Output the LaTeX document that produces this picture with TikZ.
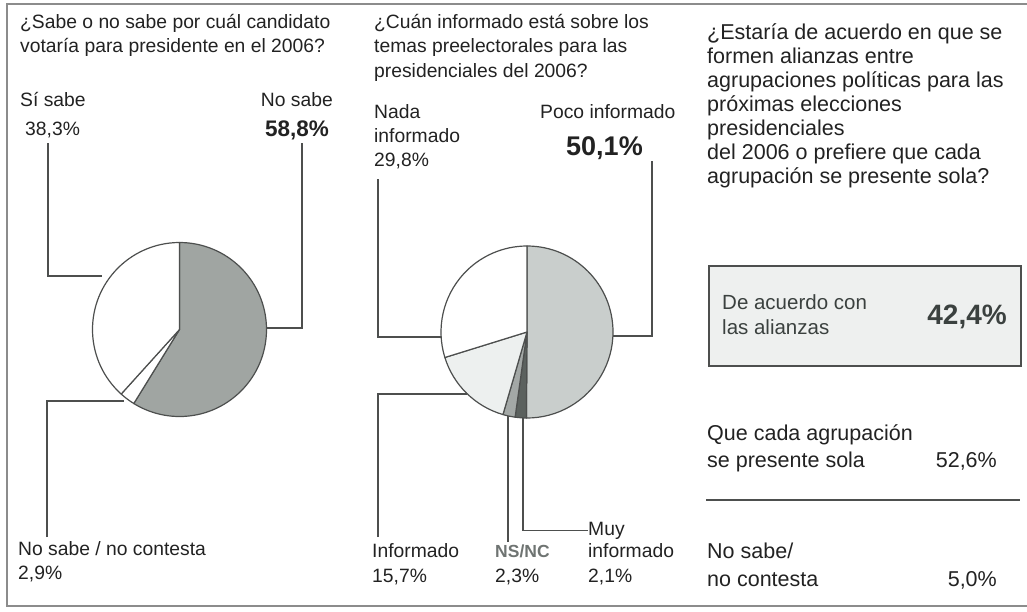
\documentclass[tikz,border=0pt]{standalone}
\usepackage{fontspec}
\setmainfont{Liberation Sans}
\usepackage{tikz}
\usetikzlibrary{positioning}
\definecolor{ink}{HTML}{222222}
\definecolor{rule}{HTML}{4D4F4E}
\definecolor{frame}{HTML}{8C8C8C}
\definecolor{pieA}{HTML}{A0A5A2}
\definecolor{pieB}{HTML}{C9CECC}
\definecolor{pieC}{HTML}{5B615E}
\definecolor{pieD}{HTML}{A3A8A6}
\definecolor{pieE}{HTML}{EDF0EF}
\definecolor{boxfill}{HTML}{EEF0EF}
\definecolor{boxink}{HTML}{3B413F}
\definecolor{nsink}{HTML}{6F7472}

\begin{document}
\begin{tikzpicture}[x=1pt,y=1pt,
  txt/.style={anchor=base west,inner sep=0pt,text=ink,font=\fontsize{19.3}{22}\selectfont},
  qtxt/.style={txt,font=\fontsize{21.5}{24}\selectfont},
  big/.style={txt,font=\bfseries\fontsize{#1}{#1}\selectfont},
  leader/.style={draw=rule,line width=1.2pt},
  slice/.style={draw=rule,line width=1.2pt,line join=round}]
  \useasboundingbox (0,0) rectangle (1027,-611);
  \draw[frame,line width=1.6pt] (1027,-4) -- (7,-4) -- (7,-606) -- (1027,-606);

  % first question
  \foreach \t [count=\i from 0] in {¿Sabe o no sabe por cuál candidato,%
    votaría para presidente en el 2006?}
    \node[txt] (qa\i) at (20,-28-24*\i) {\t};
  \coordinate (p1) at (179.5,-329.5);
  \foreach \a/\b/\c in {90/-121.7/pieA, -121.7/-132.1/white, -132.1/-270/white}
    \filldraw[slice,fill=\c] (p1) -- ++(\a:87) arc[start angle=\a,end angle=\b,radius=87] -- cycle;
  \coordinate (c1a) at (102,-276);
  \coordinate (c1b) at (267,-328);
  \coordinate (c1c) at (124,-401);
  \node[txt] (si) at (20,-106) {Sí sabe};
  \node[txt] (sip) at (25,-135) {38,3\%};
  \node[txt,anchor=base east] (no) at (333,-106) {No sabe};
  \node[big=22.5] (nop) at (265,-136) {58,8\%};
  \node[txt] (nsnc) at (18,-555) {No sabe / no contesta};
  \node[txt] (nsncp) at (18,-579) {2,9\%};
  \draw[leader] (sip.base west) ++(23,-8) |- (c1a);
  \draw[leader] (nop.base west) ++(37,-7) |- (c1b);
  \draw[leader] (nsnc.base west) ++(29,18) |- (c1c);

  % second question
  \foreach \t [count=\i from 0] in {¿Cuán informado está sobre los,%
    temas preelectorales para las,%
    presidenciales del 2006?}
    \node[txt] (qb\i) at (374,-28-24.5*\i) {\t};
  \coordinate (p2) at (527,-332);
  \foreach \a/\b/\c in {90/-90.4/pieB, -90.4/-97.96/pieC, -97.96/-106.24/pieD,
                        -106.24/-162.76/pieE, -162.76/-270/white}
    \filldraw[slice,fill=\c] (p2) -- ++(\a:86) arc[start angle=\a,end angle=\b,radius=86] -- cycle;
  \coordinate (c2a) at (441,-337);
  \coordinate (c2b) at (613,-336);
  \coordinate (c2c) at (467,-394);
  \coordinate (c2d) at (508,-416);
  \coordinate (c2e) at (523,-418);
  \node[txt] (nada) at (374,-118) {Nada};
  \node[txt] (nada2) at (374,-142) {informado};
  \node[txt] (nadap) at (374,-166) {29,8\%};
  \node[txt] (poco) at (540,-118) {Poco informado};
  \node[big=27] (pocop) at (566,-155) {50,1\%};
  \node[txt] (inf) at (372,-557) {Informado};
  \node[txt] (infp) at (372,-582) {15,7\%};
  \node[txt,text=nsink,font=\bfseries\fontsize{17.5}{20}\selectfont] (ns) at (495,-557) {NS/NC};
  \node[txt] (nsp) at (495,-582) {2,3\%};
  \node[txt] (muy) at (588,-535) {Muy};
  \node[txt] (muy2) at (588,-557) {informado};
  \node[txt] (muyp) at (588,-582) {2,1\%};
  \draw[leader] (nadap.base west) ++(4,-13) |- (c2a);
  \draw[leader] (pocop.base west) ++(86,-6) |- (c2b);
  \draw[leader] (inf.base west) ++(6,20) |- (c2c);
  \draw[leader] (ns.base west) ++(13,15) -- (c2d);
  \draw[leader] (muy.west) -| (c2e);

  % third question
  \foreach \t [count=\i from 0] in {¿Estaría de acuerdo en que se,%
    formen alianzas entre,%
    agrupaciones políticas para las,%
    próximas elecciones,%
    presidenciales,%
    del 2006 o prefiere que cada,%
    agrupación se presente sola?}
    \node[qtxt] (qc\i) at (707,-39-24.1*\i) {\t};
  \node[draw=rule,fill=boxfill,line width=1.6pt,minimum width=312,minimum height=100,
        inner sep=0pt,anchor=north west] (acbox) at (708,-265) {};
  \node[txt,text=boxink,font=\fontsize{20.5}{21}\selectfont] (ac1) at (722,-309) {De acuerdo con};
  \node[txt,text=boxink,font=\fontsize{20.5}{21}\selectfont] (ac2) at (722,-334) {las alianzas};
  \node[big=28,anchor=base east,text=boxink] (acp) at (1007,-324) {42,4\%};
  \node[qtxt] (so1) at (707,-440) {Que cada agrupación};
  \node[qtxt] (so2) at (707,-467) {se presente sola};
  \node[qtxt,anchor=base east] (sop) at (997,-467) {52,6\%};
  \draw[rule,line width=1.2pt] (706,-500) -- (1020,-500);
  \node[qtxt] (nc1) at (707,-558) {No sabe/};
  \node[qtxt] (nc2) at (707,-586) {no contesta};
  \node[qtxt,anchor=base east] (ncp) at (997,-586) {5,0\%};
\end{tikzpicture}
\end{document}
